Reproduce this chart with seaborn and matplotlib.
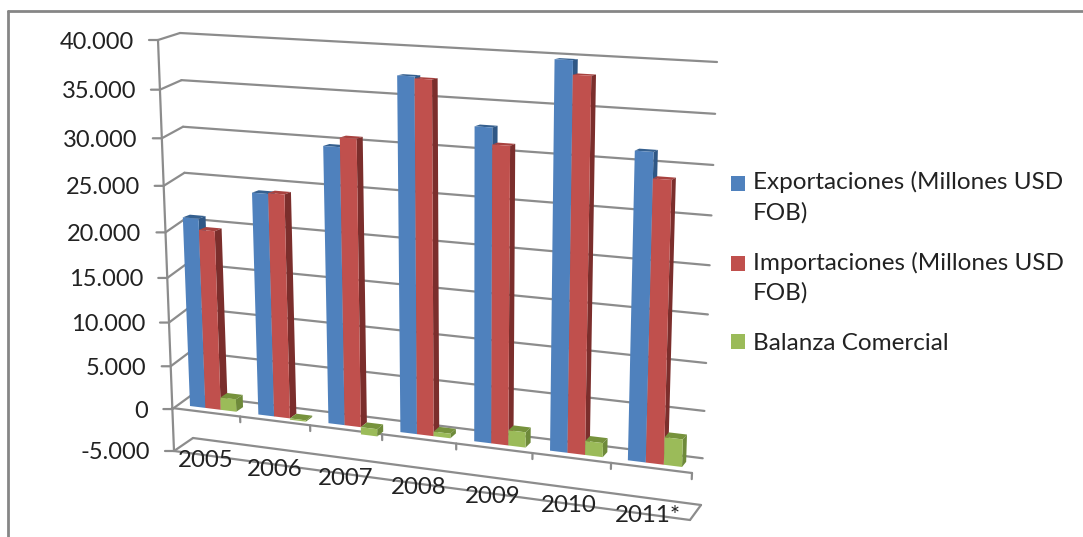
import numpy as np
import pandas as pd
import matplotlib
matplotlib.use("Agg")
import matplotlib.pyplot as plt
import matplotlib.transforms as mtrans
from matplotlib.legend_handler import HandlerPatch
from matplotlib.lines import Line2D
from matplotlib.patches import Polygon, Rectangle
import seaborn as sns

W, H = 1083, 537

# Values
years = ["2005", "2006", "2007", "2008", "2009", "2010", "2011*"]
exportaciones = [21000, 24300, 29800, 37500, 32900, 40000, 31600]
importaciones = [19800, 24400, 30800, 37300, 31200, 38600, 29000]
balanza = [1400, -150, -800, 500, 1650, 1500, 2900]
serie_names = ["Exportaciones (Millones USD\nFOB)", "Importaciones (Millones USD\nFOB)", "Balanza Comercial"]
y_ticks = [40000, 35000, 30000, 25000, 20000, 15000, 10000, 5000, 0, -5000]
y_tick_labels = ["40.000", "35.000", "30.000", "25.000", "20.000", "15.000", "10.000", "5.000", "0", "-5.000"]

front_colors = ["#4F81BD", "#C0504D", "#9BBB59"]
side_colors = ["#2F5785", "#7B2E2C", "#6E8A3A"]
top_colors = ["#35608F", "#A8423F", "#76923C"]
line_color = "#8C8C8C"
text_color = "#222222"
BAR_WIDTH = 0.68


class Homography(mtrans.Transform):
    # maps four data corners onto four picture corners (pixels, y going down)
    input_dims = 2
    output_dims = 2
    is_separable = False
    has_inverse = False

    def __init__(self, src, dst):
        super().__init__()
        rows, rhs = [], []
        for (x, y), (u, v) in zip(src, dst):
            v = H - v
            rows.append([x, y, 1, 0, 0, 0, -u * x, -u * y])
            rows.append([0, 0, 0, x, y, 1, -v * x, -v * y])
            rhs += [u, v]
        self.m = np.append(np.linalg.solve(np.array(rows, float), np.array(rhs, float)), 1).reshape(3, 3)

    def transform_non_affine(self, values):
        pts = np.column_stack([values, np.ones(len(values))]) @ self.m.T
        return pts[:, :2] / pts[:, 2:]


bar_plane = Homography(
    [(-BAR_WIDTH / 2, 0), (-BAR_WIDTH / 2, 40000), (6 + BAR_WIDTH / 2, 40000), (6 + BAR_WIDTH / 2, 0)],
    [(190, 406), (176, 38), (694, 67), (682, 467)],
)
back_wall = Homography(
    [(0, -5000), (0, 40000), (1, 40000), (1, -5000)],
    [(193, 438), (180, 33), (717, 62), (701, 505)],
)
# only its x=0 edge is used: the value axis at the front left
front_axis = Homography(
    [(0, -5000), (0, 40000), (1, 40000), (1, -5000)],
    [(174, 451), (158, 40), (708, 40), (674, 451)],
)
floor_front = Homography(
    [(0, -5000), (0, 0), (1, 0), (1, -5000)],
    [(174, 451), (172, 408), (692, 473), (690, 520)],
)


def depth_point(p):
    # back corner of a bar, shifted towards the vanishing point
    x, y = p
    return (x + 0.0058 * (1400 - x), y + 0.01 * (H - y + 50))


def raised_patch(legend, orig_handle, xdescent, ydescent, width, height, fontsize):
    # two-line entries: keep the swatch next to the first line
    return Rectangle((-xdescent, -ydescent + 10.1), width, height)


def plain_patch(legend, orig_handle, xdescent, ydescent, width, height, fontsize):
    return Rectangle((-xdescent, -ydescent), width, height)


df = pd.DataFrame({
    "anio": years * 3,
    "serie": sum([[name] * len(years) for name in serie_names], []),
    "valor": exportaciones + importaciones + balanza,
})

sns.set_theme(style="white")
plt.rcParams["font.family"] = ["Lato", "DejaVu Sans"]

fig = plt.figure(figsize=(W / 100, H / 100), dpi=100)
ax = fig.add_axes([0, 0, 1, 1])

sns.barplot(
    data=df, x="anio", y="valor", hue="serie", hue_order=serie_names,
    palette=front_colors, saturation=1, width=BAR_WIDTH, gap=0,
    linewidth=0, edgecolor="none", legend=False, ax=ax,
)
ax.set_axis_off()

# walls and floor
line_style = dict(color=line_color, lw=1.6, zorder=1, clip_on=False)
for v in y_ticks:
    ax.plot([0, 1], [v, v], transform=back_wall, **line_style)
    wall_edge = np.array([front_axis.transform([[0, v]])[0], back_wall.transform([[0, v]])[0]])
    ax.add_line(Line2D(wall_edge[:, 0], wall_edge[:, 1], transform=mtrans.IdentityTransform(), **line_style))
ax.plot([0, 0], [-5000, 40000], transform=front_axis, **line_style)
ax.plot([0, 1], [0, 0], transform=floor_front, **line_style)
ax.plot([0, 1], [-5000, -5000], transform=floor_front, **line_style)

# closing edge of the lower floor
floor_end = np.array([floor_front.transform([[1, -5000]])[0], back_wall.transform([[1, -5000]])[0]])
ax.add_line(Line2D(floor_end[:, 0], floor_end[:, 1], transform=mtrans.IdentityTransform(), **line_style))

# y ticks and labels
for v, label in zip(y_ticks, y_tick_labels):
    ax.annotate("", xy=(0, v), xycoords=front_axis, xytext=(-9, 0), textcoords="offset pixels",
                arrowprops=dict(arrowstyle="-", color=line_color, lw=1.6, shrinkA=0, shrinkB=0))
    ax.annotate(label, xy=(0, v), xycoords=front_axis, xytext=(-24, -2), textcoords="offset pixels",
                ha="right", va="center", fontsize=17, color=text_color)

# x ticks on the front floor edge, between the years
for i in range(1, len(years) + 1):
    t = i / len(years)
    ax.plot([t, t], [0, -650], transform=floor_front, **line_style)

# x labels
for i, year in enumerate(years):
    ax.annotate(year, xy=(i, 0), xycoords=bar_plane, xytext=(-7, -52), textcoords="offset pixels",
                ha="center", va="center", fontsize=17.3, color=text_color, zorder=8)

# 3d faces of the bars
depth_order = 3
for cat in range(len(years)):
    for s, container in enumerate(ax.containers):
        bar = container[cat]
        x0, x1 = bar.get_x(), bar.get_x() + bar.get_width()
        v_top, v_bot = max(bar.get_height(), 0), min(bar.get_height(), 0)
        fl, fr, br = bar_plane.transform([[x0, v_top], [x1, v_top], [x1, v_bot]])
        top = [fl, fr, depth_point(fr), depth_point(fl)]
        side = [fr, depth_point(fr), depth_point(br), br]
        ax.add_patch(Polygon(top, closed=True, transform=mtrans.IdentityTransform(),
                             fc=top_colors[s], ec="none", zorder=depth_order, clip_on=False))
        ax.add_patch(Polygon(side, closed=True, transform=mtrans.IdentityTransform(),
                             fc=side_colors[s], ec="none", zorder=depth_order, clip_on=False))
        bar.set_transform(bar_plane)
        bar.set_clip_on(False)
        bar.set_zorder(depth_order + 0.5)
        depth_order += 1

handles = [c[0] for c in ax.containers]
leg = ax.legend(
    handles, serie_names, loc="center left", bbox_to_anchor=(731 / W, 1 - 262.5 / H),
    frameon=False, fontsize=17.5, labelcolor=text_color, handlelength=0.58, handleheight=0.58,
    handletextpad=0.33, labelspacing=1.18, borderpad=0, borderaxespad=0,
    handler_map={
        handles[0]: HandlerPatch(patch_func=raised_patch),
        handles[1]: HandlerPatch(patch_func=raised_patch),
        handles[2]: HandlerPatch(patch_func=plain_patch),
    },
)
for text in leg.get_texts():
    text.set_linespacing(1.48)

# outer chart frame
frame = dict(color="#868686", lw=2, transform=fig.transFigure)
fig.add_artist(Line2D([8 / W, 1], [1 - 11 / H, 1 - 11 / H], **frame))
fig.add_artist(Line2D([8 / W, 8 / W], [1 - 11 / H, 0], **frame))

fig.savefig("out.png", dpi=100)
